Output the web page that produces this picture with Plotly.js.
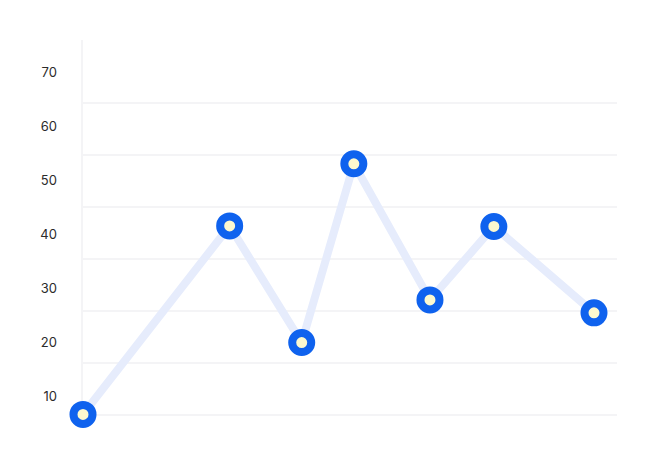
<!DOCTYPE html>
<html>
<head>
<meta charset="utf-8">
<script src="https://cdn.plot.ly/plotly-3.0.1.min.js"></script>
<style>
  html, body { margin: 0; padding: 0; background: #fff; }
  #chart { width: 660px; height: 468px; }
</style>
</head>
<body>
<div id="chart"></div>
<script>
'use strict';

// point positions along the x axis (relative units) and their values
const xPos = [0, 28.7, 42.8, 53.0, 67.9, 80.4, 100];
const values = [6.6, 41.5, 19.9, 53.0, 27.8, 41.4, 25.4];
const yTicks = [10, 20, 30, 40, 50, 60, 70];
const gridRows = [0, 1, 2, 3, 4, 5, 6];

const series = {
    x: xPos,
    y: values,
    mode: 'lines+markers',
    type: 'scatter',
    line: { color: '#e6ecfc', width: 8 },
    marker: {
        size: 19,
        color: '#fdf9cf',
        line: { color: '#0f62ee', width: 8 }
    },
    hoverinfo: 'none',
    cliponaxis: false
};

const layout = {
    width: 660,
    height: 468,
    margin: { l: 82.5, r: 43, t: 40, b: 48 },
    paper_bgcolor: '#fff',
    plot_bgcolor: '#fff',
    showlegend: false,
    font: { family: 'Inter, "Noto Sans", sans-serif', size: 13, color: '#2b2b2b' },
    xaxis: {
        range: [0, 104.5],
        showgrid: false,
        zeroline: false,
        showticklabels: false,
        showline: false,
        fixedrange: true
    },
    yaxis: {
        range: [5.56, 75.93],
        tickvals: yTicks,
        ticktext: yTicks.map(String),
        showgrid: false,
        zeroline: false,
        showline: true,
        linecolor: '#f4f4f6',
        linewidth: 2.5,
        layer: 'below traces',
        ticks: '',
        ticklabelstandoff: 21,
        fixedrange: true
    },
    // second axis only carries the horizontal grid lines
    yaxis2: {
        overlaying: 'y',
        range: [-0.096, 7.21],
        tickvals: gridRows,
        showticklabels: false,
        showgrid: true,
        gridcolor: '#f4f4f6',
        gridwidth: 2.5,
        zeroline: false,
        ticks: '',
        fixedrange: true
    }
};

const gridTrace = { x: [], y: [], yaxis: 'y2', type: 'scatter', hoverinfo: 'none' };

Plotly.newPlot('chart', [gridTrace, series], layout, { displayModeBar: false, staticPlot: true });
</script>
</body>
</html>
